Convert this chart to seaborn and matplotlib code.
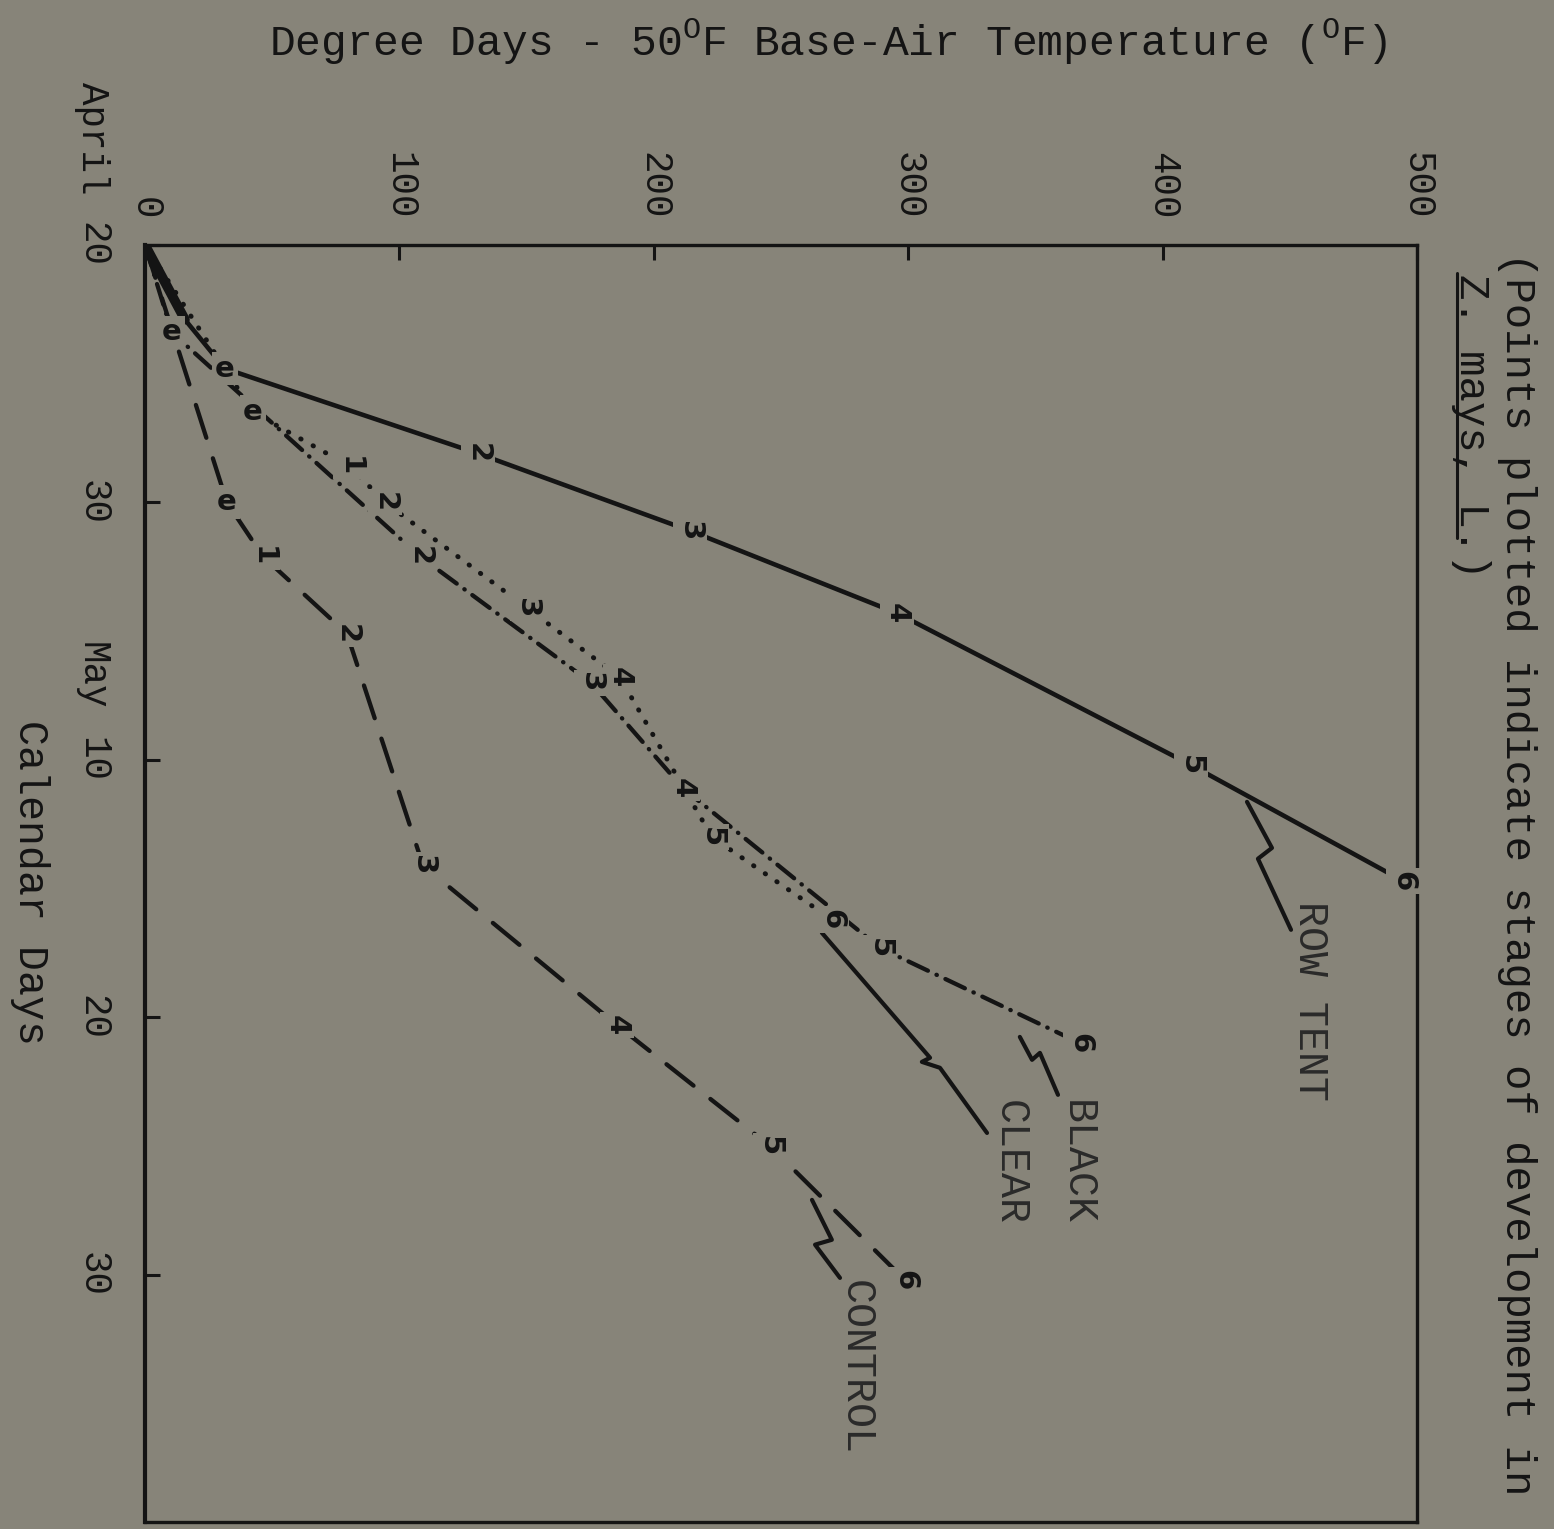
import matplotlib
matplotlib.use("Agg")
import matplotlib.pyplot as plt
import matplotlib.transforms as mtransforms
import seaborn as sns
import pandas as pd

# ---------------- data (degree days vs. days after April 20) ----------------
row_tent_dd = [0, 15.7, 31.4, 130.9, 214.2, 295.6, 411.2, 494.5]
row_tent_day = [0, 2.9, 4.8, 8.1, 11.1, 14.3, 20.2, 24.7]
row_tent_stage = ["", "", "e", "2", "3", "4", "5", "6"]

clear_dd = [0, 42.5, 80.6, 94.3, 150.2, 186.7, 222.9, 270.0]
clear_day = [0, 6.5, 8.6, 10.0, 14.1, 16.8, 23.0, 26.2]
clear_stage = ["", "e", "1", "2", "3", "4", "5", "6"]

black_dd = [0, 10.6, 108.1, 175.3, 211.5, 288.9, 367.5]
black_day = [0, 3.4, 12.1, 17.0, 21.1, 27.3, 31.0]
black_stage = ["", "e", "2", "3", "4", "5", "6"]

control_dd = [0, 32.2, 46.4, 79.4, 109.3, 185.5, 245.7, 298.7]
control_day = [0, 10.0, 12.1, 15.1, 24.1, 30.3, 35.0, 40.2]
control_stage = ["", "e", "1", "2", "3", "4", "5", "6"]

# leader lines from curve to name label
row_tent_ptr_dd = [433.2, 443.0, 437.5, 450.5]
row_tent_ptr_day = [21.63, 23.42, 23.84, 26.60]
clear_ptr_dd = [266.1, 308.6, 305.4, 312.5, 331.0]
clear_ptr_day = [26.72, 31.57, 31.73, 31.96, 34.49]
black_ptr_dd = [343.9, 348.7, 351.8, 358.9]
black_ptr_day = [30.76, 31.65, 31.38, 33.01]
control_ptr_dd = [262.2, 270.0, 263.4, 273.2]
control_ptr_day = [37.09, 38.64, 38.83, 40.12]

series_names = ["ROW TENT", "BLACK", "CLEAR", "CONTROL"]
name_pos_dd = [457.9, 366.4, 340.0, 279.5]
name_pos_day = [25.5, 33.2, 33.2, 40.2]

x_ticks = [0, 100, 200, 300, 400, 500]
y_ticks = [0, 10, 20, 30, 40]
y_tick_labels = ["20", "30", "10", "20", "30"]
month_labels = [("April", 0), ("May", 20)]

BG = "#878479"
INK = "#141414"

sns.set_theme(style="white", rc={"axes.facecolor": BG, "figure.facecolor": BG,
                                 "savefig.facecolor": BG})
plt.rcParams["font.family"] = ["Liberation Mono", "DejaVu Sans"]
plt.rcParams["mathtext.fontset"] = "custom"
plt.rcParams["mathtext.rm"] = "Liberation Mono"
plt.rcParams["text.color"] = INK

fig = plt.figure(figsize=(15.54, 15.29), dpi=100)
ax = fig.add_axes([0.0933, 0.0046, 0.8185, 0.8352])

def draw(dd, day, ls, lw=3.0):
    df = pd.DataFrame({"dd": dd, "day": day})
    sns.lineplot(data=df, x="dd", y="day", ax=ax, sort=False, estimator=None,
                 color=INK, lw=lw, linestyle=ls, dash_capstyle="round",
                 solid_capstyle="round", legend=False)

draw(row_tent_dd, row_tent_day, "-", 3.3)
draw(row_tent_dd[:2], row_tent_day[:2], "-", 7.0)   # heavy ink where the curves bundle
draw(clear_dd, clear_day, (0, (0.1, 2.8)), 3.5)
draw(black_dd, black_day, (0, (5, 2.2, 0.1, 2.2)), 3.1)
draw(control_dd, control_day, (0, (8, 5)), 3.1)

for pdd, pday in [(row_tent_ptr_dd, row_tent_ptr_day), (clear_ptr_dd, clear_ptr_day),
                  (black_ptr_dd, black_ptr_day), (control_ptr_dd, control_ptr_day)]:
    draw(pdd, pday, "-", 3.0)

# stage labels
for dd, day, st in [(row_tent_dd, row_tent_day, row_tent_stage),
                    (clear_dd, clear_day, clear_stage),
                    (black_dd, black_day, black_stage),
                    (control_dd, control_day, control_stage)]:
    for x, y, s in zip(dd, day, st):
        if not s:
            continue
        ax.text(x, y, s, rotation=0 if s == "e" else -90, ha="center", va="center",
                fontsize=21, fontweight="bold", family="DejaVu Sans", color=INK,
                bbox=dict(boxstyle="square,pad=0.1", fc=BG, ec="none"), zorder=5)

for name, x, y in zip(series_names, name_pos_dd, name_pos_day):
    ax.text(x, y, name, rotation=-90, ha="center", va="top", fontsize=30, color="#2a2a2a")

ax.set_xlim(0, 500)
ax.set_ylim(49.6, 0)
ax.set_xlabel("")
ax.set_ylabel("")
ax.xaxis.tick_top()
ax.set_xticks(x_ticks)
ax.set_xticklabels([str(v) for v in x_ticks], rotation=-90, fontsize=27)
ax.set_yticks(y_ticks)
ax.set_yticklabels(y_tick_labels, rotation=-90, fontsize=27, va="center")
ax.tick_params(axis="x", direction="in", length=11, width=2.2, pad=18, colors=INK,
               top=True, bottom=False)
ax.tick_params(axis="y", direction="in", length=11, width=2.2, pad=25, colors=INK,
               left=True, right=False)
for sp in ax.spines.values():
    sp.set_visible(True)
    sp.set_color(INK)
    sp.set_linewidth(2.4)
ax.spines["left"].set_linewidth(3.0)

trans = mtransforms.blended_transform_factory(ax.transAxes, ax.transData)
for word, tick in month_labels:
    ax.text(-0.0275, tick - 1.95, word, rotation=-90, ha="right", va="bottom",
            fontsize=27, transform=trans, clip_on=False)

fig.text(0.0193, 0.4225, "Calendar Days", rotation=-90, ha="center", va="center", fontsize=30)
fig.text(0.533, 0.9725, r"Degree Days - 50$^{\mathrm{O}}$F Base-Air Temperature ($^{\mathrm{O}}$F)",
         ha="center", va="center", fontsize=31)
fig.text(0.9762, 0.835, "(Points plotted indicate stages of development in",
         rotation=-90, ha="center", va="top", fontsize=30.5)
fig.text(0.9465, 0.821, "Z. mays, L.)", rotation=-90, ha="center", va="top", fontsize=30.5)
fig.add_artist(plt.Line2D([0.9378, 0.9378], [0.8215, 0.6480], transform=fig.transFigure,
                          color=INK, lw=2.2))

fig.savefig("out.png", dpi=100)
